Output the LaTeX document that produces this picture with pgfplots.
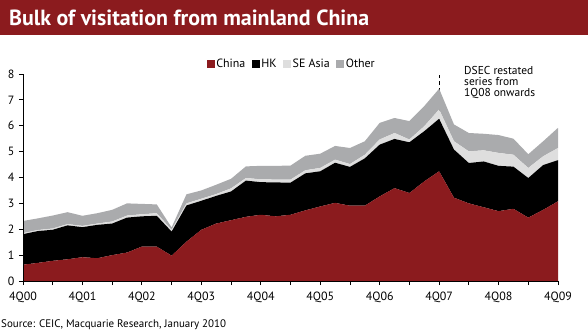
\documentclass[border=0pt]{standalone}
\usepackage{fontspec}
\setmainfont{PT Sans}
\usepackage{pgfplots}
\usepackage{pgfplotstable}
\pgfplotsset{compat=1.18}
\definecolor{mqred}{RGB}{139,27,30}
\definecolor{segray}{RGB}{222,222,222}
\definecolor{othgray}{RGB}{170,171,173}

\pgfplotstableread{
x china hk se oth
0 0.63 1.18 0.04 0.47
1 0.70 1.23 0.04 0.45
2 0.78 1.20 0.05 0.50
3 0.84 1.31 0.05 0.46
4 0.92 1.16 0.05 0.39
5 0.88 1.29 0.05 0.40
6 1.00 1.22 0.08 0.45
7 1.10 1.35 0.08 0.47
8 1.33 1.17 0.08 0.40
9 1.33 1.19 0.10 0.34
10 0.98 0.93 0.07 0.09
11 1.52 1.40 0.08 0.35
12 1.98 1.12 0.08 0.32
13 2.22 1.07 0.07 0.36
14 2.35 1.11 0.12 0.37
15 2.48 1.40 0.10 0.45
16 2.56 1.26 0.11 0.52
17 2.50 1.31 0.11 0.53
18 2.56 1.24 0.12 0.54
19 2.73 1.43 0.12 0.56
20 2.88 1.36 0.13 0.55
21 3.02 1.55 0.12 0.53
22 2.91 1.50 0.11 0.62
23 2.91 1.83 0.14 0.52
24 3.27 2.00 0.20 0.64
25 3.59 1.90 0.23 0.58
26 3.40 1.96 0.11 0.71
27 3.85 1.94 0.19 0.78
28 4.24 2.03 0.36 0.80
29 3.22 1.86 0.32 0.65
30 3.00 1.56 0.45 0.71
31 2.85 1.77 0.43 0.64
32 2.70 1.75 0.50 0.69
33 2.79 1.63 0.46 0.62
34 2.45 1.53 0.39 0.53
35 2.75 1.73 0.34 0.58
36 3.08 1.59 0.47 0.78
}\visits

\begin{document}
\begin{tikzpicture}
\path[use as bounding box] (0,0) rectangle (588bp,-335bp);
\fill[mqred] (0,0) rectangle (588bp,-35bp);
\node[anchor=base west, text=white, font=\bfseries\fontsize{22}{26}\selectfont, inner sep=0] at (9bp,-25bp) {Bulk of visitation from mainland China};
\begin{axis}[
  at={(23bp,-281bp)}, anchor=south west,
  width=535bp, height=207bp, scale only axis,
  xmin=0, xmax=36, ymin=0, ymax=8,
  stack plots=y,
  axis x line=bottom, axis y line=left,
  axis line style={-, line width=0.8bp, black},
  axis on top,
  tick align=outside,
  major tick length=4bp,
  tick style={black, line width=0.8bp},
  xtick={0,2,...,36},
  xticklabels={4Q00,,4Q01,,4Q02,,4Q03,,4Q04,,4Q05,,4Q06,,4Q07,,4Q08,,4Q09},
  ytick={0,1,...,8},
  /pgf/number format/assume math mode=true,
  ticklabel style={font=\fontsize{12}{12}\selectfont},
  yticklabel style={xshift=-1bp},
  xticklabel style={yshift=-3bp},
  legend style={at={(0.502,1.048)}, anchor=center, draw=none, fill=none,
    font=\fontsize{12}{13}\selectfont,
    /tikz/every even column/.append style={column sep=5bp},
    nodes={inner sep=1.5bp}},
  legend columns=-1,
  legend image code/.code={\fill[#1] (0bp,-4bp) rectangle (8bp,4bp);},
]
\addplot[fill=mqred, draw=none] table[x=x, y=china]{\visits} \closedcycle;
\addplot[fill=black, draw=none] table[x=x, y=hk]{\visits} \closedcycle;
\addplot[fill=segray, draw=none] table[x=x, y=se]{\visits} \closedcycle;
\addplot[fill=othgray, draw=none] table[x=x, y=oth]{\visits} \closedcycle;
\legend{China, HK, SE Asia, Other}
\draw[black, line width=0.8bp, dash pattern=on 4bp off 3bp] (axis cs:28,0) -- (axis cs:28,7.97);
\end{axis}
\node[anchor=north west, align=left, font=\fontsize{11.5}{11}\selectfont, inner sep=0] at (464bp,-66bp) {DSEC restated\\series from\\1Q08 onwards};
\node[anchor=base west, font=\fontsize{11}{13}\selectfont, inner sep=0] at (1bp,-327bp) {Source: CEIC, Macquarie Research, January 2010};
\end{tikzpicture}
\end{document}
